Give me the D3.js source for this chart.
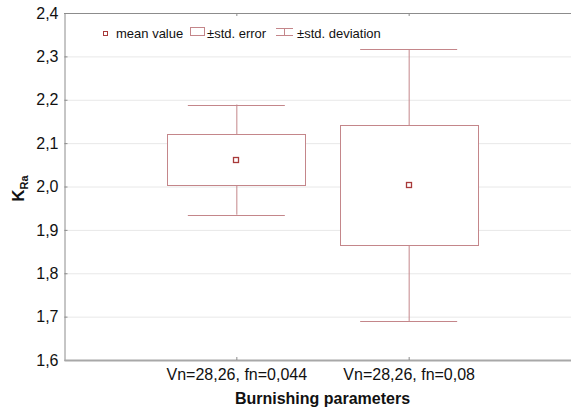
<!DOCTYPE html>
<html>
<head>
<meta charset="utf-8">
<script src="https://cdn.jsdelivr.net/npm/d3@7"></script>
<style>
  body { margin: 0; background: #fff; }
  svg { display: block; font-family: "Liberation Sans", Arial, sans-serif; }
</style>
</head>
<body>
<div id="chart"></div>
<script>
// data
const categories = ["Vn=28,26, fn=0,044", "Vn=28,26, fn=0,08"];
const means = [2.062, 2.003];
const stdErrors = [0.058, 0.139];
const stdDevs = [0.127, 0.313];
const yTicks = [1.6, 1.7, 1.8, 1.9, 2.0, 2.1, 2.2, 2.3, 2.4];

const width = 571, height = 414;
const plot = { left: 64, right: 581, top: 13, bottom: 360 };
const colors = { box: "#c4868a", mean: "#a83a3a", grid: "#e8e8e8", axis: "#8c8c8c" };

const svg = d3.select("#chart").append("svg")
    .attr("width", width)
    .attr("height", height);

const x = d3.scalePoint()
    .domain(categories)
    .range([plot.left, plot.right])
    .padding(1);

const y = d3.scaleLinear()
    .domain([1.6, 2.4])
    .range([plot.bottom, plot.top]);

const fmt = v => d3.format(".1f")(v).replace(".", ",");

// grid lines
svg.append("g")
    .selectAll("line")
    .data(yTicks.slice(1, -1))
    .join("line")
    .attr("x1", plot.left).attr("x2", plot.right)
    .attr("y1", d => y(d) + 0.5).attr("y2", d => y(d) + 0.5)
    .attr("stroke", colors.grid);

// left axis
const yAxis = svg.append("g")
    .attr("transform", `translate(${plot.left + 0.5},0)`)
    .call(d3.axisLeft(y).tickValues(yTicks).tickFormat(fmt).tickSize(-3).tickPadding(6));
yAxis.select(".domain").attr("stroke", colors.axis);
yAxis.selectAll(".tick line").attr("stroke", colors.axis);
yAxis.selectAll("text").attr("font-size", 16).attr("fill", "#111");

// top border with small ticks
svg.append("line")
    .attr("x1", plot.left).attr("x2", plot.right)
    .attr("y1", plot.top + 0.5).attr("y2", plot.top + 0.5)
    .attr("stroke", colors.axis);
svg.append("g").selectAll("line")
    .data(categories)
    .join("line")
    .attr("x1", d => x(d) + 0.5).attr("x2", d => x(d) + 0.5)
    .attr("y1", plot.top).attr("y2", plot.top + 3)
    .attr("stroke", colors.axis);

// bottom axis
const xAxis = svg.append("g")
    .attr("transform", `translate(0,${plot.bottom})`)
    .call(d3.axisBottom(x).tickSize(-3).tickPadding(9).tickSizeOuter(0));
xAxis.select(".domain").attr("stroke", "#a8a8a8").attr("stroke-width", 2);
xAxis.selectAll(".tick line").attr("stroke", colors.axis);
xAxis.selectAll("text").attr("font-size", 16).attr("fill", "#111");

// axis titles
svg.append("text")
    .attr("x", (plot.left + plot.right) / 2)
    .attr("y", 404)
    .attr("text-anchor", "middle")
    .attr("font-size", 16)
    .attr("font-weight", "bold")
    .attr("fill", "#111")
    .text("Burnishing parameters");

const yTitle = svg.append("text")
    .attr("transform", `translate(24,${(plot.top + plot.bottom) / 2 + 2}) rotate(-90)`)
    .attr("text-anchor", "middle")
    .attr("font-size", 17)
    .attr("font-weight", "bold")
    .attr("fill", "#111");
yTitle.append("tspan").text("K");
yTitle.append("tspan").attr("font-size", 11).attr("dy", 4).text("Ra");

// boxes and whiskers
const boxW = 138, capW = 97;
const groups = svg.append("g")
    .selectAll("g")
    .data(categories.map((c, i) => ({ c, m: means[i], se: stdErrors[i], sd: stdDevs[i] })))
    .join("g");

groups.append("line")
    .attr("x1", d => x(d.c) + 0.5).attr("x2", d => x(d.c) + 0.5)
    .attr("y1", d => y(d.m + d.sd)).attr("y2", d => y(d.m - d.sd))
    .attr("stroke", colors.box);
groups.selectAll(".cap")
    .data(d => [d.m + d.sd, d.m - d.sd].map(v => ({ c: d.c, v })))
    .join("line")
    .attr("class", "cap")
    .attr("x1", d => x(d.c) - capW / 2).attr("x2", d => x(d.c) + capW / 2)
    .attr("y1", d => Math.round(y(d.v)) + 0.5).attr("y2", d => Math.round(y(d.v)) + 0.5)
    .attr("stroke", colors.box);
groups.append("rect")
    .attr("x", d => Math.round(x(d.c) - boxW / 2) + 0.5)
    .attr("y", d => Math.round(y(d.m + d.se)) + 0.5)
    .attr("width", boxW)
    .attr("height", d => Math.round(y(d.m - d.se)) - Math.round(y(d.m + d.se)))
    .attr("fill", "#fff")
    .attr("stroke", colors.box);
groups.append("rect")
    .attr("x", d => Math.round(x(d.c)) - 2.5)
    .attr("y", d => Math.round(y(d.m)) - 2.5)
    .attr("width", 5).attr("height", 5)
    .attr("fill", "#fff")
    .attr("stroke", colors.mean)
    .attr("stroke-width", 1.3);

// legend
const legend = svg.append("g").attr("font-size", 13).attr("fill", "#111");
legend.append("rect")
    .attr("x", 103.5).attr("y", 31.5).attr("width", 4).attr("height", 4)
    .attr("fill", "#fff").attr("stroke", colors.mean);
legend.append("text").attr("x", 116).attr("y", 38).text("mean value");
legend.append("rect")
    .attr("x", 190.5).attr("y", 27.5).attr("width", 14).attr("height", 8)
    .attr("fill", "#fff").attr("stroke", colors.box);
legend.append("text").attr("x", 207).attr("y", 38).text("±std. error");
legend.append("path")
    .attr("d", "M276,28.5H293M284.5,28.5V35.5M276,35.5H293")
    .attr("fill", "none").attr("stroke", colors.box);
legend.append("text").attr("x", 297).attr("y", 38).text("±std. deviation");
</script>
</body>
</html>
